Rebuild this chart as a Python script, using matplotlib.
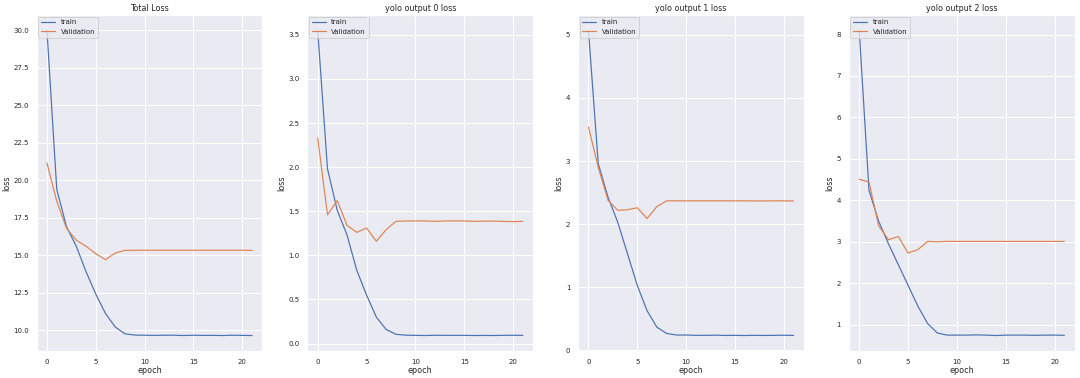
import matplotlib
matplotlib.use("Agg")
import matplotlib.pyplot as plt
import seaborn as sns

sns.set_theme()

epochs = list(range(22))

total_train = [30.0, 19.4, 16.9, 15.6, 13.9, 12.4, 11.1, 10.2, 9.75, 9.67, 9.66, 9.65, 9.66, 9.66,
               9.64, 9.66, 9.65, 9.65, 9.64, 9.66, 9.65, 9.64]
total_val = [21.15, 18.6, 16.8, 16.0, 15.6, 15.1, 14.7, 15.15, 15.32, 15.33, 15.33, 15.33, 15.33, 15.33,
             15.33, 15.33, 15.33, 15.33, 15.33, 15.33, 15.33, 15.32]

out0_train = [3.55, 1.98, 1.51, 1.23, 0.83, 0.55, 0.30, 0.16, 0.105, 0.095, 0.093, 0.091, 0.094, 0.093,
              0.093, 0.093, 0.091, 0.092, 0.091, 0.093, 0.094, 0.093]
out0_val = [2.33, 1.46, 1.62, 1.34, 1.26, 1.31, 1.16, 1.29, 1.385, 1.39, 1.39, 1.39, 1.385, 1.39,
            1.39, 1.39, 1.385, 1.388, 1.388, 1.385, 1.382, 1.385]

out1_train = [5.07, 2.96, 2.43, 2.03, 1.53, 1.03, 0.63, 0.37, 0.27, 0.245, 0.245, 0.24, 0.24, 0.243,
              0.238, 0.24, 0.237, 0.24, 0.238, 0.24, 0.242, 0.238]
out1_val = [3.54, 2.90, 2.38, 2.22, 2.23, 2.26, 2.09, 2.28, 2.37, 2.37, 2.37, 2.37, 2.37, 2.37,
            2.37, 2.37, 2.37, 2.368, 2.368, 2.37, 2.37, 2.368]

out2_train = [8.1, 4.24, 3.49, 2.95, 2.45, 1.95, 1.45, 1.03, 0.8, 0.75, 0.75, 0.75, 0.755, 0.75,
              0.74, 0.75, 0.75, 0.75, 0.745, 0.75, 0.75, 0.745]
out2_val = [4.51, 4.44, 3.38, 3.05, 3.13, 2.73, 2.81, 3.01, 3.0, 3.01, 3.01, 3.01, 3.01, 3.01,
            3.01, 3.01, 3.01, 3.01, 3.01, 3.01, 3.01, 3.01]

titles = ["Total Loss", "yolo output 0 loss", "yolo output 1 loss", "yolo output 2 loss"]
series = [(total_train, total_val), (out0_train, out0_val),
          (out1_train, out1_val), (out2_train, out2_val)]

fig, axes = plt.subplots(1, 4, figsize=(15, 5.25), dpi=72)
for ax, title, (tr, va) in zip(axes, titles, series):
    ax.plot(epochs, tr, label="train", lw=1.2)
    ax.plot(epochs, va, label="Validation", lw=1.2)
    ax.set_title(title, fontsize=8, pad=4)
    ax.set_xlabel("epoch", fontsize=8, labelpad=1)
    ax.set_ylabel("loss", fontsize=8, labelpad=2)
    ax.tick_params(labelsize=7, pad=2)
    ax.legend(loc="upper left", fontsize=7, borderaxespad=0.2)

plt.subplots_adjust(left=0.034, right=0.995, top=0.96, bottom=0.072, wspace=0.2)
plt.savefig("out.png")
